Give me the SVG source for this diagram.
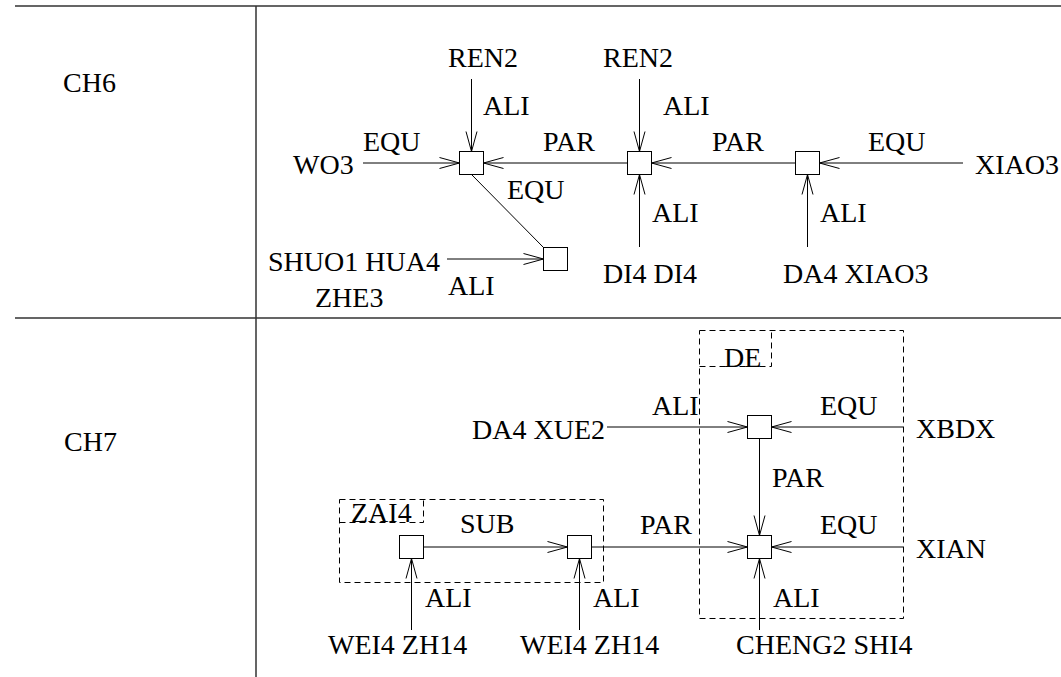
<svg xmlns="http://www.w3.org/2000/svg" width="1061" height="677" viewBox="0 0 1061 677">
<style>
text{font-family:"Liberation Serif","Times New Roman",serif;font-size:28px;fill:#000}
.box{fill:#fff;stroke:#000;stroke-width:1}
.e{fill:none;stroke:#000;stroke-width:1}
.a{marker-end:url(#arr)}
.dash{fill:none;stroke:#000;stroke-width:1;stroke-dasharray:6,4}
.tbl{stroke:#333;stroke-width:1.5;fill:none}
</style>
<defs>
<marker id="arr" viewBox="-21 -7 22 14" markerWidth="22" markerHeight="14" refX="0" refY="0" orient="auto" markerUnits="userSpaceOnUse">
<path d="M-20,-5.5 L0,0 L-20,5.5" fill="none" stroke="#000" stroke-width="1"/>
</marker>
</defs>
<rect width="1061" height="677" fill="#fff"/>
<g id="table">
<path class="tbl" d="M15,6 H1061 M15,318 H1061 M256,6 V677"/>
<text x="63" y="92">CH6</text>
<text x="64" y="451">CH7</text>
</g>
<g id="groups">
<rect class="dash" x="699.5" y="330.5" width="204" height="288"/>
<path class="dash" d="M699.5,366.5 H771.5 V330.5"/>
<text x="724" y="367">DE</text>
<rect class="dash" x="339.5" y="499.5" width="264" height="83"/>
<path class="dash" d="M339.5,522.5 H423.5 V499.5"/>
<text x="351" y="522">ZAI4</text>
</g>
<g id="connectors">
<path class="e a" d="M363,163 H459.5"/>
<path class="e a" d="M471.5,79 V151.5"/>
<path class="e a" d="M627.5,163 H483.5"/>
<path class="e a" d="M639.5,79 V151.5"/>
<path class="e a" d="M795.5,163 H651.5"/>
<path class="e a" d="M963,163 H819.5"/>
<path class="e a" d="M639.5,247 V174.5"/>
<path class="e a" d="M807.5,247 V174.5"/>
<path class="e" d="M471.5,174.5 L543.5,247.5"/>
<path class="e a" d="M447,259 H543.5"/>
<path class="e a" d="M607,427 H747.5"/>
<path class="e a" d="M903,427 H771.5"/>
<path class="e a" d="M759.5,438.5 V535.5"/>
<path class="e a" d="M903,547 H771.5"/>
<path class="e a" d="M591.5,547 H747.5"/>
<path class="e a" d="M423.5,547 H567.5"/>
<path class="e a" d="M759.5,630 V558.5"/>
<path class="e a" d="M411.5,630 V558.5"/>
<path class="e a" d="M579.5,630 V558.5"/>
</g>
<g id="labels">
<text x="483" y="115">ALI</text>
<text x="663" y="115">ALI</text>
<text x="363" y="151">EQU</text>
<text x="543" y="151">PAR</text>
<text x="712" y="151">PAR</text>
<text x="868" y="151">EQU</text>
<text x="507" y="199">EQU</text>
<text x="652" y="222">ALI</text>
<text x="820" y="222">ALI</text>
<text x="448" y="295">ALI</text>
<text x="652" y="415">ALI</text>
<text x="820" y="415">EQU</text>
<text x="772" y="487">PAR</text>
<text x="640" y="534">PAR</text>
<text x="820" y="534">EQU</text>
<text x="460" y="533">SUB</text>
<text x="425" y="607">ALI</text>
<text x="593" y="607">ALI</text>
<text x="773" y="607">ALI</text>
</g>
<g id="n-ren2a"><text x="448" y="67">REN2</text></g>
<g id="n-ren2b"><text x="603" y="67">REN2</text></g>
<g id="n-wo3"><text x="293" y="174">WO3</text></g>
<g id="n-xiao3"><text x="975" y="174">XIAO3</text></g>
<g id="n-shuo"><text x="268" y="271">SHUO1 HUA4</text><text x="315" y="307">ZHE3</text></g>
<g id="n-di4"><text x="603" y="283">DI4 DI4</text></g>
<g id="n-da4xiao3"><text x="783" y="283">DA4 XIAO3</text></g>
<g id="n1"><rect class="box" x="459.5" y="151.5" width="24" height="23"/></g>
<g id="n2"><rect class="box" x="627.5" y="151.5" width="24" height="23"/></g>
<g id="n3"><rect class="box" x="795.5" y="151.5" width="24" height="23"/></g>
<g id="n4"><rect class="box" x="543.5" y="247.5" width="24" height="23"/></g>
<g id="n-da4xue2"><text x="472" y="439">DA4 XUE2</text></g>
<g id="n-xbdx"><text x="916" y="438">XBDX</text></g>
<g id="n-xian"><text x="916" y="558">XIAN</text></g>
<g id="n-wei4a"><text x="328" y="654">WEI4 ZH14</text></g>
<g id="n-wei4b"><text x="520" y="654">WEI4 ZH14</text></g>
<g id="n-cheng2"><text x="736" y="654">CHENG2 SHI4</text></g>
<g id="d1"><rect class="box" x="747.5" y="415.5" width="24" height="23"/></g>
<g id="d2"><rect class="box" x="747.5" y="535.5" width="24" height="23"/></g>
<g id="z1"><rect class="box" x="399.5" y="535.5" width="24" height="23"/></g>
<g id="z2"><rect class="box" x="567.5" y="535.5" width="24" height="23"/></g>
</svg>
